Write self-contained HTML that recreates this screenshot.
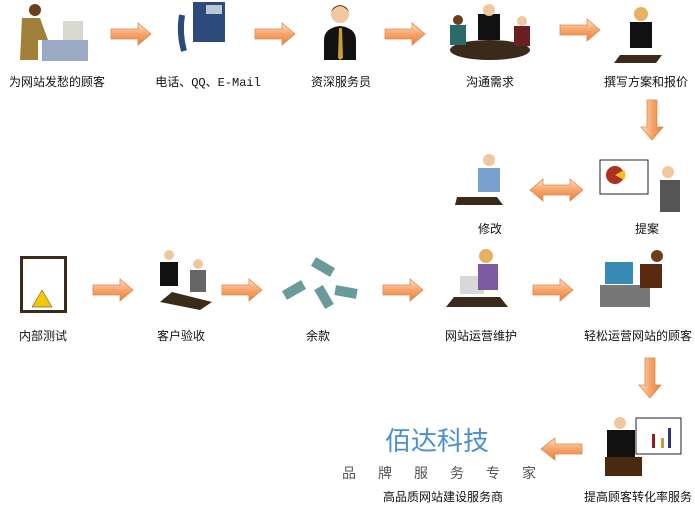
<!DOCTYPE html>
<html><head><meta charset="utf-8"><style>
body{margin:0;width:695px;height:509px;background:#fff;overflow:hidden;position:relative;font-family:"Liberation Sans","Noto Sans CJK SC",sans-serif;}
.l{position:absolute;font-size:12px;color:#111;white-space:nowrap;transform:translateX(-50%);}
svg{position:absolute;left:0;top:0}
</style></head><body>
<svg width="695" height="509" viewBox="0 0 695 509">
<defs>
<linearGradient id="g" x1="0" y1="0" x2="0" y2="1"><stop offset="0" stop-color="#fde0c8"/><stop offset="0.5" stop-color="#f6a56a"/><stop offset="1" stop-color="#e9803c"/></linearGradient>
<linearGradient id="gv" x1="0" y1="0" x2="1" y2="0"><stop offset="0" stop-color="#fde0c8"/><stop offset="0.5" stop-color="#f6a56a"/><stop offset="1" stop-color="#e9803c"/></linearGradient>
<g id="ar"><path d="M0,-5 H27 V-11 L40,0 L27,11 V5 H0 Z" fill="url(#g)" stroke="#e08a50" stroke-width="0.8"/></g>
<g id="ad"><path d="M-5,0 V27 H-11 L0,40 L11,27 H5 V0 Z" fill="url(#gv)" stroke="#e08a50" stroke-width="0.8"/></g>
</defs>
<!-- arrows row1 -->
<use href="#ar" x="111" y="34"/><use href="#ar" x="255" y="34"/><use href="#ar" x="385" y="34"/><use href="#ar" x="560" y="30"/>
<use href="#ad" x="652" y="100"/>
<path d="M530,190 L543,179 V185 H570 V179 L583,190 L570,201 V195 H543 V201 Z" fill="url(#g)" stroke="#e08a50" stroke-width="0.8"/>
<use href="#ar" x="93" y="290"/><use href="#ar" x="222" y="290"/><use href="#ar" x="383" y="290"/><use href="#ar" x="533" y="290"/>
<use href="#ad" x="650" y="358"/>
<path d="M582,444 H555 V438 L541,449 L555,460 V454 H582 Z" fill="url(#g)" stroke="#e08a50" stroke-width="0.8"/>
<!-- icons row1 -->
<rect x="63" y="21" width="20" height="20" fill="#d8d8d0"/><rect x="42" y="40" width="46" height="21" fill="#9aaac4"/>
<circle cx="35" cy="10" r="6" fill="#6b3e1c"/><path d="M22,18 h18 l8,22 h-10 v20 h-18z" fill="#a0803a"/>
<rect x="193" y="2" width="32" height="40" fill="#2d4b7a"/><rect x="206" y="5" width="16" height="9" fill="#bcc7d5"/><path d="M182,15 q-3,18 2,36" stroke="#2d4b7a" stroke-width="6" fill="none"/>
<path d="M324,60 v-20 q0,-12 16,-14 q16,2 16,14 v20z" fill="#111"/><path d="M339,28 l3,0 l1,30 l-3,2 l-2,-2z" fill="#c8a030"/><circle cx="340" cy="14" r="9" fill="#f0c8a0"/><path d="M331,12 q9,-12 18,0 q-2,-6 -9,-7 q-7,1 -9,7z" fill="#4a2a10"/>
<ellipse cx="490" cy="50" rx="40" ry="10" fill="#3a2a1a"/><rect x="478" y="14" width="22" height="26" fill="#111"/><circle cx="489" cy="10" r="6" fill="#f0c8a0"/><rect x="450" y="25" width="16" height="20" fill="#2a6a6a"/><circle cx="458" cy="20" r="5" fill="#6b3e1c"/><rect x="514" y="26" width="16" height="20" fill="#6a2020"/><circle cx="522" cy="21" r="5" fill="#f0c8a0"/>
<path d="M620,55 h42 l-6,8 h-42z" fill="#3a2a1a"/><rect x="630" y="22" width="22" height="26" fill="#111"/><circle cx="641" cy="14" r="7" fill="#e8b060"/>
<!-- row2 -->
<path d="M455,205 h48 l-6,-8 h-40z" fill="#3a2a1a"/><rect x="478" y="168" width="22" height="24" fill="#7aa0d0"/><circle cx="489" cy="160" r="6" fill="#f0c8a0"/>
<rect x="600" y="160" width="48" height="34" fill="#fff" stroke="#222"/><circle cx="615" cy="175" r="9" fill="#b03020"/><path d="M615,175 l9,-5 a9,9 0 0 1 0,10z" fill="#f0c020"/><rect x="660" y="180" width="20" height="32" fill="#555"/><circle cx="668" cy="172" r="6" fill="#f0c8a0"/>
<!-- row3 -->
<rect x="20" y="256" width="47" height="57" fill="#3a2a1a"/><rect x="23" y="259" width="41" height="51" fill="#fff"/><path d="M42,290 l10,17 h-20z" fill="#f5c800" stroke="#333" stroke-width="0.5"/>
<path d="M160,302 l40,8 l12,-8 l-40,-10z" fill="#3a2a1a"/><rect x="160" y="262" width="18" height="24" fill="#111"/><rect x="190" y="270" width="16" height="22" fill="#666"/><circle cx="169" cy="255" r="5" fill="#f0c8a0"/><circle cx="198" cy="264" r="5" fill="#f0c8a0"/>
<g fill="#6a9a9a"><rect x="283" y="285" width="22" height="10" transform="rotate(-30 294 290)"/><rect x="312" y="262" width="22" height="10" transform="rotate(30 323 267)"/><rect x="313" y="292" width="22" height="10" transform="rotate(60 324 297)"/><rect x="335" y="287" width="22" height="10" transform="rotate(10 346 292)"/></g>
<path d="M446,307 h62 l-8,-10 h-46z" fill="#3a2a1a"/><rect x="460" y="276" width="24" height="18" fill="#d8d8d8"/><rect x="478" y="264" width="20" height="26" fill="#7a5aa0"/><circle cx="486" cy="256" r="7" fill="#e8b060"/>
<rect x="600" y="285" width="50" height="22" fill="#777"/><rect x="605" y="262" width="28" height="22" fill="#3a8ab8"/><rect x="640" y="264" width="22" height="24" fill="#5a2a10"/><circle cx="657" cy="256" r="6" fill="#6b3e1c"/>
<!-- row4 -->
<rect x="636" y="418" width="45" height="36" fill="#fff" stroke="#222"/><rect x="652" y="434" width="3" height="14" fill="#8a2020"/><rect x="661" y="438" width="3" height="10" fill="#c8a030"/><rect x="668" y="428" width="3" height="20" fill="#2a3a7a"/>
<rect x="607" y="430" width="28" height="30" fill="#111"/><circle cx="620" cy="423" r="6" fill="#f0c8a0"/><rect x="605" y="457" width="37" height="19" fill="#4a2a10"/>
</svg>
<div class="l" style="left:57px;top:73px">为网站发愁的顾客</div>
<div class="l" style="left:208px;top:73px;font-family:'Liberation Mono','Noto Sans CJK SC',monospace;">电话、QQ、E-Mail</div>
<div class="l" style="left:341px;top:73px">资深服务员</div>
<div class="l" style="left:490px;top:73px">沟通需求</div>
<div class="l" style="left:646px;top:73px">撰写方案和报价</div>
<div class="l" style="left:490px;top:220px">修改</div>
<div class="l" style="left:647px;top:220px">提案</div>
<div class="l" style="left:43px;top:327px">内部测试</div>
<div class="l" style="left:181px;top:327px">客户验收</div>
<div class="l" style="left:318px;top:327px">余款</div>
<div class="l" style="left:481px;top:327px">网站运营维护</div>
<div class="l" style="left:638px;top:327px">轻松运营网站的顾客</div>
<div class="l" style="left:437px;top:421px;font-size:26px;color:#4a90d0;">佰达科技</div>
<div class="l" style="left:439px;top:463px;font-size:14px;color:#555;letter-spacing:22px;padding-left:22px">品牌服务专家</div>
<div class="l" style="left:443px;top:488px">高品质网站建设服务商</div>
<div class="l" style="left:638px;top:488px">提高顾客转化率服务</div>
</body></html>
